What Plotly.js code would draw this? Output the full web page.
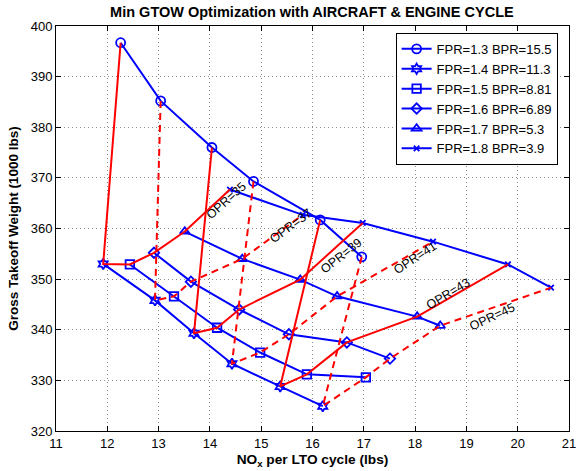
<!DOCTYPE html>
<html>
<head>
<meta charset="utf-8">
<script src="https://cdn.plot.ly/plotly-3.0.1.min.js"></script>
<style>html,body{margin:0;padding:0;background:#fff;}#chart{width:583px;height:471px;}</style>
</head>
<body>
<div id="chart"></div>
<script>
// ---- Data ----
const FPR_LABELS = ['FPR=1.3 BPR=15.5','FPR=1.4 BPR=11.3','FPR=1.5 BPR=8.81','FPR=1.6 BPR=6.89','FPR=1.7 BPR=5.3','FPR=1.8 BPR=3.9'];
const OPR_LABELS = ['OPR=35','OPR=37','OPR=39','OPR=41','OPR=43','OPR=45'];

// NOx per LTO cycle (lbs) and GTOW (1000 lbs) for OPR = 35,37,39,41,43,45
const nox_fpr13  = [12.26, 13.04, 14.04, 14.85, 16.15, 16.96];
const gtow_fpr13 = [396.7, 385.2, 376.0, 369.3, 361.7, 354.4];
const nox_fpr14  = [11.92, 12.93, 13.69, 14.43, 15.37, 16.20];
const gtow_fpr14 = [353.0, 345.8, 339.3, 333.3, 328.8, 324.9];
const nox_fpr15  = [12.44, 13.30, 14.14, 14.98, 15.89, 17.04];
const gtow_fpr15 = [352.9, 346.6, 340.4, 335.5, 331.2, 330.6];
const nox_fpr16  = [12.91, 13.63, 14.57, 15.54, 16.67, 17.51];
const gtow_fpr16 = [355.2, 349.5, 344.0, 339.1, 337.5, 334.3];
const nox_fpr17  = [13.51, 14.63, 15.76, 16.48, 18.04, 18.49];
const gtow_fpr17 = [359.4, 354.0, 349.9, 346.6, 342.6, 340.8];
const nox_fpr18  = [14.39, 15.81, 16.98, 18.35, 19.81, 20.65];
const gtow_fpr18 = [367.7, 362.7, 361.1, 357.4, 352.9, 348.3];

const X_TICKS = [11,12,13,14,15,16,17,18,19,20,21];
const Y_TICKS = [320,330,340,350,360,370,380,390,400];

// ---- Build traces ----
const noxSeries  = [nox_fpr13, nox_fpr14, nox_fpr15, nox_fpr16, nox_fpr17, nox_fpr18];
const gtowSeries = [gtow_fpr13, gtow_fpr14, gtow_fpr15, gtow_fpr16, gtow_fpr17, gtow_fpr18];
const symbols = ['circle-open','hexagram-open','square-open','diamond-open','triangle-up-open','x-thin-open'];
const sizes   = [9, 8, 8.5, 8, 8.5, 5.5];
const FONT = 'Liberation Sans, Arial, Helvetica, sans-serif';

const traces = [];
for (let i = 0; i < noxSeries.length; i++) {
  traces.push({
    type: 'scatter', mode: 'lines+markers', name: FPR_LABELS[i],
    x: noxSeries[i], y: gtowSeries[i],
    line: {color: '#0000ff', width: 2},
    marker: {symbol: symbols[i], size: sizes[i], color: '#0000ff', line: {color: '#0000ff', width: 1.8}},
    showlegend: true
  });
}
for (let k = 0; k < OPR_LABELS.length; k++) {
  traces.push({
    type: 'scatter', mode: 'lines', name: OPR_LABELS[k],
    x: noxSeries.map(s => s[k]), y: gtowSeries.map(s => s[k]),
    line: {color: '#ff0000', width: 2, dash: (k % 2 === 0) ? 'solid' : '7px,5px'},
    showlegend: false
  });
}

// Label placement for OPR annotations (layout only)
const oprLabelPlace = [
  {x: 14.31, y: 365.5, a: -42},
  {x: 15.58, y: 360.4, a: -36},
  {x: 16.56, y: 354.6, a: -38},
  {x: 18.00, y: 354.2, a: -33},
  {x: 18.64, y: 347.1, a: -31},
  {x: 19.50, y: 342.6, a: -25}
];
const annotations = OPR_LABELS.map((t, k) => ({
  text: t, x: oprLabelPlace[k].x, y: oprLabelPlace[k].y, xref: 'x', yref: 'y',
  showarrow: false, textangle: oprLabelPlace[k].a,
  font: {family: FONT, size: 12.5, color: '#000'}
}));

const axisCommon = {
  showline: true, linecolor: '#000', linewidth: 1, mirror: 'ticks',
  ticks: 'inside', ticklen: 5, tickcolor: '#000', tickwidth: 1,
  showgrid: true, gridcolor: '#8c8c8c', gridwidth: 1, griddash: '1px,3px',
  zeroline: false, tickfont: {family: FONT, size: 13, color: '#000'}
};

const layout = {
  width: 583, height: 471,
  margin: {l: 56, r: 14, t: 26, b: 40, pad: 0},
  paper_bgcolor: '#fff', plot_bgcolor: '#fff',
  font: {family: FONT, color: '#000'},
  title: {text: 'Min GTOW Optimization with AIRCRAFT & ENGINE CYCLE',
          font: {family: FONT, size: 14.5, weight: 'bold', color: '#000'},
          x: 0.535, xanchor: 'center', xref: 'container', y: 0.975, yanchor: 'middle', yref: 'container'},
  xaxis: Object.assign({}, axisCommon, {
    range: [11, 21], tickvals: X_TICKS, ticktext: X_TICKS.map(String),
    title: {text: 'NO<sub>x</sub> per LTO cycle (lbs)', font: {family: FONT, size: 13.7, weight: 'bold', color: '#000'}, standoff: 4}
  }),
  yaxis: Object.assign({}, axisCommon, {
    range: [320, 400], tickvals: Y_TICKS, ticktext: Y_TICKS.map(String),
    title: {text: 'Gross Takeoff Weight (1000 lbs)', font: {family: FONT, size: 13.5, weight: 'bold', color: '#000'}, standoff: 8}
  }),
  legend: {
    x: 0.662, y: 0.983, xanchor: 'left', yanchor: 'top',
    bgcolor: '#fff', bordercolor: '#000', borderwidth: 1,
    font: {family: FONT, size: 13, color: '#000'},
    tracegroupgap: 0
  },
  annotations: annotations
};

Plotly.newPlot('chart', traces, layout, {staticPlot: true, displayModeBar: false});
</script>
</body>
</html>
